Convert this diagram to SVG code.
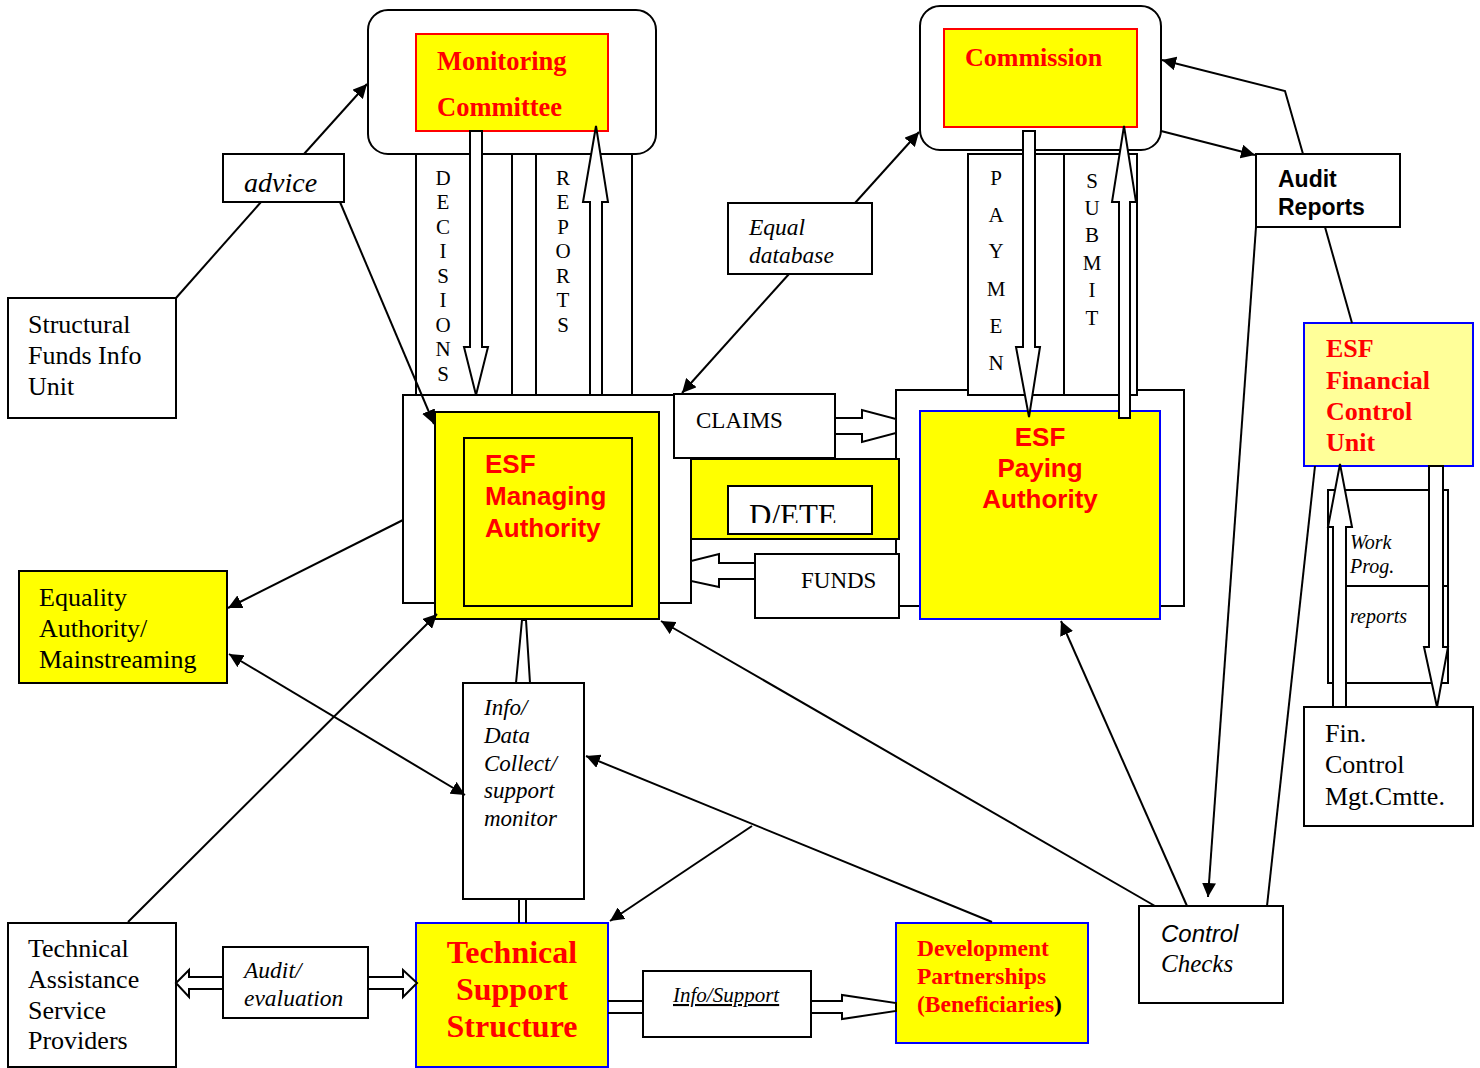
<svg xmlns="http://www.w3.org/2000/svg" width="1480" height="1068" viewBox="0 0 1480 1068">
<style>
.b{fill:#fff;stroke:#000;stroke-width:2}
.y{fill:#ffff00;stroke:#000;stroke-width:2}
.yr{fill:#ffff00;stroke:#ff0000;stroke-width:2}
.yb{fill:#ffff00;stroke:#0000ff;stroke-width:2}
.ha{fill:#fff;stroke:#000;stroke-width:2;stroke-linejoin:miter}
.ln{fill:none;stroke:#000;stroke-width:2}
.t{font-family:"Liberation Serif",serif;fill:#000}
.ti{font-family:"Liberation Serif",serif;font-style:italic;fill:#000}
.rb{font-family:"Liberation Serif",serif;font-weight:bold;fill:#ff0000}
.ab{font-family:"Liberation Sans",sans-serif;font-weight:bold;fill:#ff0000}
.v{font-family:"Liberation Serif",serif;font-size:21px;fill:#000;text-anchor:middle}
</style>
<defs>
<marker id="ah" viewBox="0 0 10 10" refX="10" refY="5" markerWidth="7" markerHeight="7" orient="auto-start-reverse" markerUnits="strokeWidth">
<path d="M0,0 L10,5 L0,10 z" fill="#000"/>
</marker>
<clipPath id="dclip"><rect x="728" y="486" width="144" height="37"/></clipPath>
</defs>

<g id="monitoring-committee">
<rect class="b" x="368" y="10" width="288" height="144" rx="20"/>
<rect class="yr" x="416" y="34" width="192" height="97"/>
<text class="rb" x="437" y="70" font-size="26.5">Monitoring</text>
<text class="rb" x="437" y="116" font-size="26.5">Committee</text>
</g>

<g id="decisions-column">
<rect class="b" x="416" y="154" width="96" height="241"/>
<text class="v" x="443" y="185">D</text><text class="v" x="443" y="209">E</text><text class="v" x="443" y="234">C</text><text class="v" x="443" y="258">I</text><text class="v" x="443" y="283">S</text><text class="v" x="443" y="307">I</text><text class="v" x="443" y="332">O</text><text class="v" x="443" y="356">N</text><text class="v" x="443" y="381">S</text>
</g>
<g id="reports-column">
<rect class="b" x="536" y="154" width="96" height="241"/>
<text class="v" x="563" y="185">R</text><text class="v" x="563" y="209">E</text><text class="v" x="563" y="234">P</text><text class="v" x="563" y="258">O</text><text class="v" x="563" y="283">R</text><text class="v" x="563" y="307">T</text><text class="v" x="563" y="332">S</text>
</g>

<g id="commission">
<rect class="b" x="920" y="6" width="241" height="144" rx="20"/>
<rect class="yr" x="944" y="29" width="193" height="98"/>
<text class="rb" x="965" y="66" font-size="26">Commission</text>
</g>

<g id="managing-authority">
<rect class="b" x="403" y="395" width="288" height="208"/>
<rect class="y" x="435" y="412" width="224" height="207"/>
<rect class="y" x="464" y="438" width="168" height="168"/>
<text class="ab" x="485" y="473" font-size="26">ESF</text>
<text class="ab" x="485" y="505" font-size="26">Managing</text>
<text class="ab" x="485" y="537" font-size="26">Authority</text>
</g>

<g id="paying-authority">
<rect class="b" x="896" y="390" width="288" height="216"/>
<rect class="yb" x="920" y="411" width="240" height="208"/>
<text class="ab" x="1040" y="446" font-size="26" text-anchor="middle">ESF</text>
<text class="ab" x="1040" y="477" font-size="26" text-anchor="middle">Paying</text>
<text class="ab" x="1040" y="508" font-size="26" text-anchor="middle">Authority</text>
</g>

<g id="payment-column">
<rect class="b" x="968" y="154" width="96" height="241"/>
<text class="v" x="996" y="185">P</text><text class="v" x="996" y="222">A</text><text class="v" x="996" y="258">Y</text><text class="v" x="996" y="296">M</text><text class="v" x="996" y="333">E</text><text class="v" x="996" y="370">N</text>
</g>
<g id="submit-column">
<rect class="b" x="1064" y="154" width="73" height="241"/>
<text class="v" x="1092" y="188">S</text><text class="v" x="1092" y="215">U</text><text class="v" x="1092" y="242">B</text><text class="v" x="1092" y="270">M</text><text class="v" x="1092" y="297">I</text><text class="v" x="1092" y="325">T</text>
</g>

<g id="dete">
<rect class="y" x="691" y="459" width="208" height="80"/>
<rect class="b" x="728" y="486" width="144" height="48"/>
<text class="t" x="749" y="526" font-size="31" clip-path="url(#dclip)">D/ETE</text>
</g>
<g id="claims">
<rect class="b" x="674" y="394" width="161" height="64"/>
<text class="t" x="696" y="428" font-size="23">CLAIMS</text>
</g>
<g id="funds">
<rect class="b" x="755" y="554" width="144" height="64"/>
<text class="t" x="801" y="588" font-size="23">FUNDS</text>
</g>

<g id="advice">
<rect class="b" x="223" y="154" width="121" height="48"/>
<text class="ti" x="244" y="192" font-size="28">advice</text>
</g>
<g id="structural-funds">
<rect class="b" x="8" y="298" width="168" height="120"/>
<text class="t" x="28" y="333" font-size="26">Structural</text>
<text class="t" x="28" y="364" font-size="26">Funds Info</text>
<text class="t" x="28" y="395" font-size="26">Unit</text>
</g>
<g id="equal-database">
<rect class="b" x="728" y="203" width="144" height="71"/>
<text class="ti" x="749" y="235" font-size="23.5">Equal</text>
<text class="ti" x="749" y="263" font-size="23.5">database</text>
</g>
<g id="equality-authority">
<rect class="y" x="19" y="571" width="208" height="112"/>
<text class="t" x="39" y="606" font-size="26">Equality</text>
<text class="t" x="39" y="637" font-size="26">Authority/</text>
<text class="t" x="39" y="668" font-size="26">Mainstreaming</text>
</g>
<g id="info-data">
<rect class="b" x="463" y="683" width="121" height="216"/>
<text class="ti" x="484" y="715" font-size="23">Info/</text>
<text class="ti" x="484" y="743" font-size="23">Data</text>
<text class="ti" x="484" y="771" font-size="23">Collect/</text>
<text class="ti" x="484" y="798" font-size="23">support</text>
<text class="ti" x="484" y="826" font-size="23">monitor</text>
</g>
<g id="audit-reports">
<rect class="b" x="1256" y="154" width="144" height="73"/>
<text font-family="'Liberation Sans',sans-serif" font-weight="bold" font-size="23" x="1278" y="187">Audit</text>
<text font-family="'Liberation Sans',sans-serif" font-weight="bold" font-size="23" x="1278" y="215">Reports</text>
</g>
<g id="financial-control-unit">
<rect x="1304" y="323" width="169" height="143" fill="#ffff99" stroke="#0000ff" stroke-width="2"/>
<text class="rb" x="1326" y="357" font-size="26">ESF</text>
<text class="rb" x="1326" y="389" font-size="26">Financial</text>
<text class="rb" x="1326" y="420" font-size="26">Control</text>
<text class="rb" x="1326" y="451" font-size="26">Unit</text>
</g>
<g id="work-prog">
<rect class="b" x="1328" y="490" width="120" height="193"/>
<line class="ln" x1="1346" y1="586" x2="1448" y2="586"/>
<text class="ti" x="1350" y="549" font-size="20">Work</text>
<text class="ti" x="1350" y="573" font-size="20">Prog.</text>
<text class="ti" x="1350" y="623" font-size="20">reports</text>
</g>
<g id="fin-control-mgt">
<rect class="b" x="1304" y="707" width="169" height="119"/>
<text class="t" x="1325" y="742" font-size="26">Fin.</text>
<text class="t" x="1325" y="773" font-size="26">Control</text>
<text class="t" x="1325" y="805" font-size="26">Mgt.Cmtte.</text>
</g>
<g id="control-checks">
<rect class="b" x="1139" y="906" width="144" height="97"/>
<text font-family="'Liberation Sans',sans-serif" font-style="italic" font-size="24" x="1161" y="942">Control</text>
<text class="ti" x="1161" y="972" font-size="25">Checks</text>
</g>
<g id="technical-assistance">
<rect class="b" x="8" y="923" width="168" height="144"/>
<text class="t" x="28" y="957" font-size="26">Technical</text>
<text class="t" x="28" y="988" font-size="26">Assistance</text>
<text class="t" x="28" y="1019" font-size="26">Service</text>
<text class="t" x="28" y="1049" font-size="26">Providers</text>
</g>
<g id="audit-evaluation">
<rect class="b" x="223" y="947" width="145" height="71"/>
<text class="ti" x="244" y="978" font-size="23.5">Audit/</text>
<text class="ti" x="244" y="1006" font-size="23.5">evaluation</text>
</g>
<g id="technical-support">
<rect class="yb" x="416" y="923" width="192" height="144"/>
<text class="rb" x="512" y="963" font-size="32" text-anchor="middle">Technical</text>
<text class="rb" x="512" y="1000" font-size="32" text-anchor="middle">Support</text>
<text class="rb" x="512" y="1037" font-size="32" text-anchor="middle">Structure</text>
</g>
<g id="info-support">
<rect class="b" x="643" y="971" width="168" height="66"/>
<text class="ti" x="673" y="1002" font-size="21" text-decoration="underline">Info/Support</text>
</g>
<g id="development-partnerships">
<rect class="yb" x="896" y="923" width="192" height="120"/>
<text class="rb" x="917" y="956" font-size="23.5">Development</text>
<text class="rb" x="917" y="984" font-size="23.5">Partnerships</text>
<text class="rb" x="917" y="1012" font-size="23.5">(Beneficiaries<tspan fill="#000">)</tspan></text>
</g>

<g id="connectors">
<polygon class="ha" points="470,131 482,131 482,347 488,347 476,395 464,347 470,347"/>
<polygon class="ha" points="590,395 590,202 583,202 596,126 608,202 602,202 602,395"/>
<polygon class="ha" points="1023,131 1035,131 1035,347 1040,347 1029,417 1016,347 1023,347"/>
<polygon class="ha" points="1119,418 1119,202 1112,202 1124,126 1136,202 1130,202 1130,418"/>
<polygon class="ha" points="1333,707 1333,527 1328,527 1340,464 1352,527 1346,527 1346,707"/>
<polygon class="ha" points="1429,466 1443,466 1443,647 1448,647 1437,707 1424,647 1429,647"/>
<polygon class="ha" points="835,418 862,418 862,410 896,419 896,433 862,442 862,434 835,434"/>
<polygon class="ha" points="755,563 719,563 719,554 691,561 691,581 719,587 719,579 755,579"/>
<polygon class="ha" points="811,1001 842,1001 842,995 896,1003 896,1011 842,1019 842,1013 811,1013"/>
<polygon class="ha" points="223,977 189,977 189,970 176,983 189,997 189,989 223,989"/>
<polygon class="ha" points="368,977 403,977 403,970 417,983 403,997 403,989 368,989"/>
<polygon class="ha" points="516,683 522,620 526,620 530,683"/>
<line class="ln" x1="519" y1="899" x2="519" y2="923"/>
<line class="ln" x1="526" y1="899" x2="526" y2="923"/>
<line class="ln" x1="608" y1="1001" x2="643" y2="1001"/>
<line class="ln" x1="608" y1="1013" x2="643" y2="1013"/>
<line class="ln" x1="176" y1="298" x2="261" y2="202"/>
<line class="ln" x1="304" y1="154" x2="367" y2="84" marker-end="url(#ah)"/>
<line class="ln" x1="340" y1="202" x2="434" y2="424" marker-end="url(#ah)"/>
<line class="ln" x1="855" y1="203" x2="919" y2="132" marker-end="url(#ah)"/>
<line class="ln" x1="789" y1="274" x2="682" y2="393" marker-end="url(#ah)"/>
<line class="ln" x1="403" y1="520" x2="228" y2="608" marker-end="url(#ah)"/>
<line class="ln" x1="229" y1="654" x2="465" y2="795" marker-start="url(#ah)" marker-end="url(#ah)"/>
<line class="ln" x1="128" y1="922" x2="437" y2="614" marker-end="url(#ah)"/>
<line class="ln" x1="992" y1="922" x2="586" y2="756" marker-end="url(#ah)"/>
<line class="ln" x1="752" y1="826" x2="610" y2="921" marker-end="url(#ah)"/>
<line class="ln" x1="1155" y1="906" x2="661" y2="621" marker-end="url(#ah)"/>
<line class="ln" x1="1187" y1="906" x2="1061" y2="621" marker-end="url(#ah)"/>
<line class="ln" x1="1161" y1="131" x2="1255" y2="155" marker-end="url(#ah)"/>
<polyline class="ln" points="1303,154 1285,91 1162,60" marker-end="url(#ah)"/>
<line class="ln" x1="1325" y1="227" x2="1352" y2="323"/>
<line class="ln" x1="1256" y1="227" x2="1208" y2="897" marker-end="url(#ah)"/>
<line class="ln" x1="1315" y1="466" x2="1267" y2="906"/>
</g>
</svg>
